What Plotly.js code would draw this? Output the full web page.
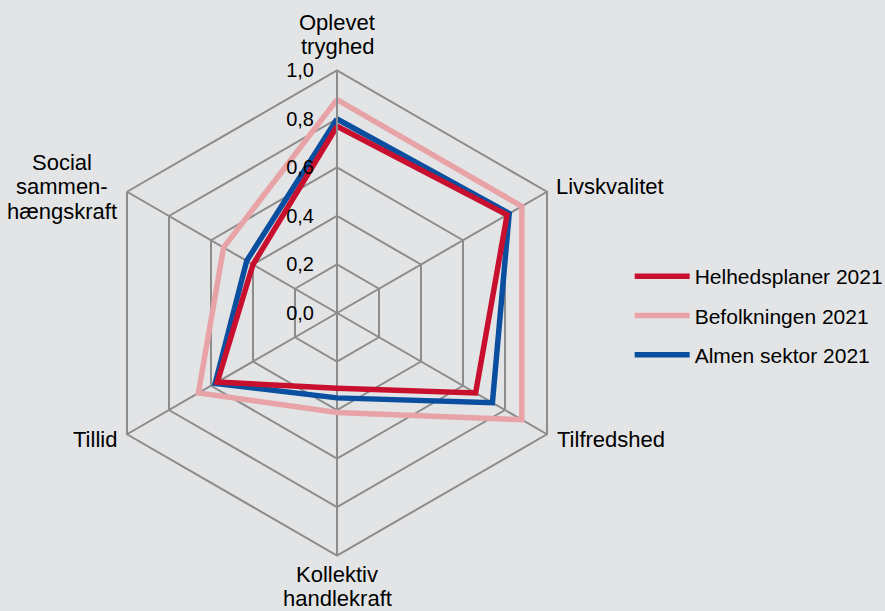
<!DOCTYPE html>
<html>
<head>
<meta charset="utf-8">
<script src="https://cdn.plot.ly/plotly-3.0.1.min.js"></script>
<style>
  html, body { margin: 0; padding: 0; background: #e3e4e6; }
  #chart { width: 885px; height: 611px; }
</style>
</head>
<body>
<div id="chart"></div>
<script>
const categories = ["Oplevet<br>tryghed", "Livskvalitet", "Tilfredshed", "Kollektiv<br>handlekraft", "Tillid", "Social<br>sammen-<br>hængskraft"];
const helhedsplaner = [0.77, 0.81, 0.66, 0.31, 0.57, 0.40];
const befolkningen = [0.88, 0.88, 0.88, 0.41, 0.66, 0.54];
const almen = [0.80, 0.82, 0.74, 0.35, 0.58, 0.43];
const seriesNames = ["Helhedsplaner 2021", "Befolkningen 2021", "Almen sektor 2021"];
const seriesColors = ["#c8102e", "#e8a3a7", "#0a4f9f"];
const radialTicks = [0, 0.2, 0.4, 0.6, 0.8, 1.0];

function closed(a) { return a.concat([a[0]]); }

const seriesData = [helhedsplaner, befolkningen, almen];
const traces = seriesData.map((vals, i) => ({
  type: "scatterpolar",
  mode: "lines",
  r: closed(vals),
  theta: closed(categories),
  name: seriesNames[i],
  legendgroup: "g" + i,
  legendrank: i + 1,
  line: { color: seriesColors[i], width: 5.5 },
  hoverinfo: "skip"
}));
// draw order: pink underneath, then blue, then red on top
const ordered = [traces[1], traces[2], traces[0]];

const W = 885, H = 611;
const cx = 337, cy = 313, R = 242.5;
const FONT = "Liberation Sans, Arial, sans-serif";
const LABEL_SIZE = 22, LINE_SP = 24.5;

// measure text widths for centred multi-line category labels
const ctx = document.createElement("canvas").getContext("2d");
ctx.font = LABEL_SIZE + "px 'Liberation Sans'";

const annotations = [];
categories.forEach((cat, i) => {
  const lines = cat.split("<br>");
  const n = lines.length;
  const a = (90 - 60 * i) * Math.PI / 180;
  const c = Math.cos(a), s = Math.sin(a);
  const vx = cx + R * c, vy = cy - R * s;
  let xc, yc, sp = LINE_SP;
  if (Math.abs(c) < 0.01) {
    xc = vx;
    if (s > 0) {
      yc = vy - 23.5 - (n - 1) / 2 * sp;
    } else {
      sp = 23.5;
      yc = vy + 19 + (n - 1) / 2 * sp;
    }
  } else {
    const maxW = Math.max(...lines.map(l => ctx.measureText(l).width));
    xc = c > 0 ? vx + 9.5 + maxW / 2 : vx - 10 - maxW / 2;
    yc = vy - 5 * Math.sign(s);
  }
  lines.forEach((l, k) => {
    const y = yc + (k - (n - 1) / 2) * sp;
    annotations.push({
      xref: "paper", yref: "paper",
      x: xc / W, y: 1 - y / H,
      xanchor: "center", yanchor: "middle",
      text: l, showarrow: false,
      font: { family: FONT, size: LABEL_SIZE, color: "#000000" }
    });
  });
});

const layout = {
  width: W, height: H,
  margin: { l: 0, r: 0, t: 0, b: 0, autoexpand: false },
  paper_bgcolor: "#e3e4e6",
  separators: ",.",
  font: { family: FONT, size: 20, color: "#000000" },
  showlegend: true,
  legend: {
    x: 0.7115, y: (H - 256) / H, xanchor: "left", yanchor: "top",
    bgcolor: "rgba(0,0,0,0)",
    font: { size: 21, color: "#000000" },
    traceorder: "grouped",
    tracegroupgap: 9,
    itemwidth: 55
  },
  annotations: annotations,
  polar: {
    domain: { x: [(cx - R) / W, (cx + R) / W], y: [(H - cy - R) / H, (H - cy + R) / H] },
    bgcolor: "#e3e4e6",
    gridshape: "linear",
    radialaxis: {
      range: [0, 1],
      tickvals: radialTicks,
      tickformat: ".1f",
      angle: 90,
      tickangle: 90,
      side: "counterclockwise",
      ticks: "outside",
      ticklen: 15,
      tickcolor: "rgba(0,0,0,0)",
      showline: true,
      linecolor: "#8c8c8c",
      linewidth: 2,
      gridcolor: "#8c8c8c",
      gridwidth: 2,
      tickfont: { size: 20, color: "#000000" }
    },
    angularaxis: {
      rotation: 90,
      direction: "clockwise",
      ticks: "",
      showticklabels: false,
      showline: true,
      linecolor: "#8c8c8c",
      linewidth: 2,
      gridcolor: "#8c8c8c",
      gridwidth: 2
    }
  }
};

Plotly.newPlot("chart", ordered, layout, { displayModeBar: false, staticPlot: true });
</script>
</body>
</html>
